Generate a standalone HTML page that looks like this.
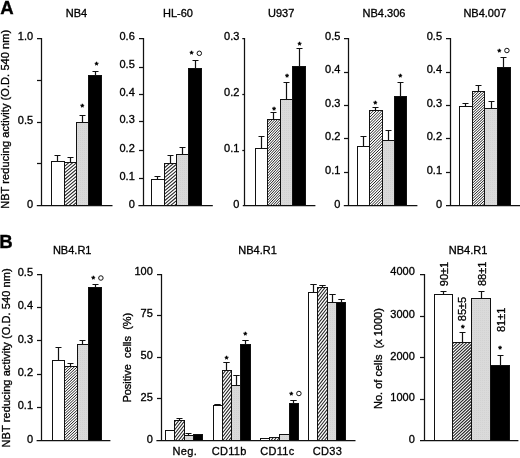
<!DOCTYPE html>
<html><head><meta charset="utf-8"><title>Figure</title>
<style>
html,body{margin:0;padding:0;background:#fff;}
body{width:520px;height:458px;overflow:hidden;}
svg{display:block;will-change:transform;}
text{font-family:"Liberation Sans",sans-serif;font-size:11px;fill:#000;stroke:#000;stroke-width:0.32px;}
.pl{font-size:18.6px;font-weight:bold;fill:#000;}
.cat{stroke-width:0.3px;letter-spacing:0.3px;fill:#000;stroke:#000;}
.st{font-size:9.4px;stroke-width:0.5px;}
.ax{stroke:#111;stroke-width:1.25;fill:none;}
.er{stroke:#111;stroke-width:1.2;fill:none;}
.ht{stroke:#242424;fill:none;}
.sp{stroke:#111;stroke-width:1.05;fill:none;}
.br{stroke:#111;stroke-width:1.0;}
</style></head><body>
<svg width="520" height="458" viewBox="0 0 520 458">
<defs>
<pattern id="dots" width="2" height="2" patternUnits="userSpaceOnUse">
<rect width="2" height="2" fill="#dadada"/><rect width="1" height="1" fill="#d2d2d2"/>
</pattern>
</defs>
<rect width="520" height="458" fill="#fff"/>
<text x="0.3" y="14.3" class="pl">A</text>
<text x="-0.7" y="247.6" class="pl">B</text>
<path d="M37.0 38.5H41.5V205.5" class="ax"/>
<path d="M36.8 205.5H112.5" class="ax"/>
<path d="M37.0 163.5H41.5" class="ax"/>
<path d="M37.0 122.5H41.5" class="ax"/>
<path d="M37.0 80.5H41.5" class="ax"/>
<text x="33.1" y="207.5" text-anchor="end">0</text>
<text x="33.1" y="123.7" text-anchor="end">0.5</text>
<text x="33.1" y="39.8" text-anchor="end">1.0</text>
<path d="M57.5 161.6V155.5M54.5 155.5H60.5" class="er"/>
<path d="M70.5 162.5V157.5M67.5 157.5H73.5" class="er"/>
<path d="M82.5 122.0V115.5M79.5 115.5H85.5" class="er"/>
<path d="M95.5 75.6V71.5M92.5 71.5H98.5" class="er"/>
<rect x="51.5" y="161.5" width="13.0" height="44.0" fill="#fff" class="br"/>
<clipPath id="c1"><rect x="64.5" y="162.5" width="12.0" height="43.0"/></clipPath>
<rect x="64.5" y="162.5" width="12.0" height="43.0" fill="#fff"/>
<path d="M64.5 215.82L76.5 205.75M64.5 212.52L76.5 202.45M64.5 209.22L76.5 199.15M64.5 205.92L76.5 195.85M64.5 202.62L76.5 192.55M64.5 199.32L76.5 189.25M64.5 196.02L76.5 185.95M64.5 192.72L76.5 182.65M64.5 189.42L76.5 179.35M64.5 186.12L76.5 176.05M64.5 182.82L76.5 172.75M64.5 179.52L76.5 169.45M64.5 176.22L76.5 166.15M64.5 172.92L76.5 162.85M64.5 169.62L76.5 159.55M64.5 166.32L76.5 156.25M64.5 163.02L76.5 152.95" class="ht" stroke-width="1.05" clip-path="url(#c1)"/>
<rect x="64.5" y="162.5" width="12.0" height="43.0" fill="none" class="br"/>
<rect x="76.5" y="122.5" width="12.0" height="83.0" fill="url(#dots)" class="br"/>
<rect x="88.5" y="75.5" width="13.0" height="130.0" fill="#000" class="br"/>
<text x="76.5" y="16.7" text-anchor="middle">NB4</text>
<text x="82.4" y="109.7" text-anchor="middle" class="st">*</text>
<text x="96.6" y="67.5" text-anchor="middle" class="st">*</text>
<path d="M139.0 38.5H143.5V205.5" class="ax"/>
<path d="M138.4 205.5H212.8" class="ax"/>
<path d="M139.0 178.5H143.5" class="ax"/>
<path d="M139.0 150.5H143.5" class="ax"/>
<path d="M139.0 121.5H143.5" class="ax"/>
<path d="M139.0 94.5H143.5" class="ax"/>
<path d="M139.0 67.5H143.5" class="ax"/>
<text x="134.8" y="207.5" text-anchor="end">0</text>
<text x="134.8" y="180.1" text-anchor="end">0.1</text>
<text x="134.8" y="152.0" text-anchor="end">0.2</text>
<text x="134.8" y="123.3" text-anchor="end">0.3</text>
<text x="134.8" y="95.6" text-anchor="end">0.4</text>
<text x="134.8" y="68.2" text-anchor="end">0.5</text>
<text x="134.8" y="39.8" text-anchor="end">0.6</text>
<path d="M157.5 179.0V176.5M154.5 176.5H160.5" class="er"/>
<path d="M170.5 163.7V155.5M167.5 155.5H173.5" class="er"/>
<path d="M182.5 154.6V147.5M179.5 147.5H185.5" class="er"/>
<path d="M195.5 68.3V60.5M192.5 60.5H198.5" class="er"/>
<rect x="151.5" y="179.5" width="13.0" height="26.0" fill="#fff" class="br"/>
<clipPath id="c2"><rect x="164.5" y="163.5" width="12.0" height="42.0"/></clipPath>
<rect x="164.5" y="163.5" width="12.0" height="42.0" fill="#fff"/>
<path d="M164.5 217.23L176.5 207.16M164.5 213.93L176.5 203.86M164.5 210.63L176.5 200.56M164.5 207.33L176.5 197.26M164.5 204.03L176.5 193.96M164.5 200.73L176.5 190.66M164.5 197.43L176.5 187.36M164.5 194.13L176.5 184.06M164.5 190.83L176.5 180.76M164.5 187.53L176.5 177.46M164.5 184.23L176.5 174.16M164.5 180.93L176.5 170.86M164.5 177.63L176.5 167.56M164.5 174.33L176.5 164.26M164.5 171.03L176.5 160.96M164.5 167.73L176.5 157.66M164.5 164.43L176.5 154.36" class="ht" stroke-width="1.05" clip-path="url(#c2)"/>
<rect x="164.5" y="163.5" width="12.0" height="42.0" fill="none" class="br"/>
<rect x="176.5" y="154.5" width="12.0" height="51.0" fill="url(#dots)" class="br"/>
<rect x="188.5" y="68.5" width="13.0" height="137.0" fill="#000" class="br"/>
<text x="178.0" y="16.7" text-anchor="middle">HL-60</text>
<text x="191.7" y="57.3" text-anchor="middle" class="st">*</text>
<circle cx="199.3" cy="53.3" r="2.25" fill="none" stroke="#111" stroke-width="1.0"/>
<path d="M242.3 38.5H244.5V205.5" class="ax"/>
<path d="M242.8 205.5H315.4" class="ax"/>
<path d="M242.3 150.5H244.5" class="ax"/>
<path d="M242.3 94.5H244.5" class="ax"/>
<text x="239.4" y="207.5" text-anchor="end">0</text>
<text x="239.4" y="152.0" text-anchor="end">0.1</text>
<text x="239.4" y="95.7" text-anchor="end">0.2</text>
<text x="239.4" y="39.8" text-anchor="end">0.3</text>
<path d="M261.5 148.2V136.5M258.5 136.5H264.5" class="er"/>
<path d="M273.5 119.6V112.5M270.5 112.5H276.5" class="er"/>
<path d="M286.5 99.1V82.5M283.5 82.5H289.5" class="er"/>
<path d="M299.5 66.0V48.5M296.5 48.5H302.5" class="er"/>
<rect x="255.5" y="148.5" width="12.0" height="57.0" fill="#fff" class="br"/>
<clipPath id="c3"><rect x="267.5" y="119.5" width="13.0" height="86.0"/></clipPath>
<rect x="267.5" y="119.5" width="13.0" height="86.0" fill="#fff"/>
<path d="M267.5 219.36L280.5 205.42M267.5 216.66L280.5 202.72M267.5 213.96L280.5 200.02M267.5 211.26L280.5 197.32M267.5 208.56L280.5 194.62M267.5 205.86L280.5 191.92M267.5 203.16L280.5 189.22M267.5 200.46L280.5 186.52M267.5 197.76L280.5 183.82M267.5 195.06L280.5 181.12M267.5 192.36L280.5 178.42M267.5 189.66L280.5 175.72M267.5 186.96L280.5 173.02M267.5 184.26L280.5 170.32M267.5 181.56L280.5 167.62M267.5 178.86L280.5 164.92M267.5 176.16L280.5 162.22M267.5 173.46L280.5 159.52M267.5 170.76L280.5 156.82M267.5 168.06L280.5 154.12M267.5 165.36L280.5 151.42M267.5 162.66L280.5 148.72M267.5 159.96L280.5 146.02M267.5 157.26L280.5 143.32M267.5 154.56L280.5 140.62M267.5 151.86L280.5 137.92M267.5 149.16L280.5 135.22M267.5 146.46L280.5 132.52M267.5 143.76L280.5 129.82M267.5 141.06L280.5 127.12M267.5 138.36L280.5 124.42M267.5 135.66L280.5 121.72M267.5 132.96L280.5 119.02M267.5 130.26L280.5 116.32M267.5 127.56L280.5 113.62M267.5 124.86L280.5 110.92M267.5 122.16L280.5 108.22" class="ht" stroke-width="1.00" clip-path="url(#c3)"/>
<rect x="267.5" y="119.5" width="13.0" height="86.0" fill="none" class="br"/>
<rect x="280.5" y="99.5" width="12.0" height="106.0" fill="url(#dots)" class="br"/>
<rect x="292.5" y="66.5" width="13.0" height="139.0" fill="#000" class="br"/>
<text x="281.2" y="16.7" text-anchor="middle">U937</text>
<text x="274.0" y="112.6" text-anchor="middle" class="st">*</text>
<text x="287.0" y="80.4" text-anchor="middle" class="st">*</text>
<text x="299.6" y="47.8" text-anchor="middle" class="st">*</text>
<path d="M344.0 38.5H348.5V205.5" class="ax"/>
<path d="M343.8 205.5H417.4" class="ax"/>
<path d="M344.0 172.5H348.5" class="ax"/>
<path d="M344.0 138.5H348.5" class="ax"/>
<path d="M344.0 105.5H348.5" class="ax"/>
<path d="M344.0 72.5H348.5" class="ax"/>
<text x="340.4" y="207.5" text-anchor="end">0</text>
<text x="340.4" y="174.0" text-anchor="end">0.1</text>
<text x="340.4" y="140.4" text-anchor="end">0.2</text>
<text x="340.4" y="106.9" text-anchor="end">0.3</text>
<text x="340.4" y="73.3" text-anchor="end">0.4</text>
<text x="340.4" y="39.8" text-anchor="end">0.5</text>
<path d="M363.5 146.4V136.5M360.5 136.5H366.5" class="er"/>
<path d="M375.5 110.6V107.5M372.5 107.5H378.5" class="er"/>
<path d="M388.5 140.7V130.5M385.5 130.5H391.5" class="er"/>
<path d="M400.5 96.1V82.5M397.5 82.5H403.5" class="er"/>
<rect x="357.5" y="146.5" width="12.0" height="59.0" fill="#fff" class="br"/>
<clipPath id="c4"><rect x="369.5" y="110.5" width="13.0" height="95.0"/></clipPath>
<rect x="369.5" y="110.5" width="13.0" height="95.0" fill="#fff"/>
<path d="M369.5 221.10L382.5 208.10M369.5 218.30L382.5 205.30M369.5 215.50L382.5 202.50M369.5 212.70L382.5 199.70M369.5 209.90L382.5 196.90M369.5 207.10L382.5 194.10M369.5 204.30L382.5 191.30M369.5 201.50L382.5 188.50M369.5 198.70L382.5 185.70M369.5 195.90L382.5 182.90M369.5 193.10L382.5 180.10M369.5 190.30L382.5 177.30M369.5 187.50L382.5 174.50M369.5 184.70L382.5 171.70M369.5 181.90L382.5 168.90M369.5 179.10L382.5 166.10M369.5 176.30L382.5 163.30M369.5 173.50L382.5 160.50M369.5 170.70L382.5 157.70M369.5 167.90L382.5 154.90M369.5 165.10L382.5 152.10M369.5 162.30L382.5 149.30M369.5 159.50L382.5 146.50M369.5 156.70L382.5 143.70M369.5 153.90L382.5 140.90M369.5 151.10L382.5 138.10M369.5 148.30L382.5 135.30M369.5 145.50L382.5 132.50M369.5 142.70L382.5 129.70M369.5 139.90L382.5 126.90M369.5 137.10L382.5 124.10M369.5 134.30L382.5 121.30M369.5 131.50L382.5 118.50M369.5 128.70L382.5 115.70M369.5 125.90L382.5 112.90M369.5 123.10L382.5 110.10M369.5 120.30L382.5 107.30M369.5 117.50L382.5 104.50M369.5 114.70L382.5 101.70M369.5 111.90L382.5 98.90" class="ht" stroke-width="1.00" clip-path="url(#c4)"/>
<rect x="369.5" y="110.5" width="13.0" height="95.0" fill="none" class="br"/>
<rect x="382.5" y="140.5" width="12.0" height="65.0" fill="url(#dots)" class="br"/>
<rect x="394.5" y="96.5" width="12.0" height="109.0" fill="#000" class="br"/>
<text x="384.0" y="16.7" text-anchor="middle">NB4.306</text>
<text x="375.4" y="106.7" text-anchor="middle" class="st">*</text>
<text x="400.4" y="80.4" text-anchor="middle" class="st">*</text>
<path d="M446.0 38.5H450.5V205.5" class="ax"/>
<path d="M446.0 205.5H520.0" class="ax"/>
<path d="M446.0 172.5H450.5" class="ax"/>
<path d="M446.0 138.5H450.5" class="ax"/>
<path d="M446.0 105.5H450.5" class="ax"/>
<path d="M446.0 72.5H450.5" class="ax"/>
<text x="442.0" y="207.5" text-anchor="end">0</text>
<text x="442.0" y="174.0" text-anchor="end">0.1</text>
<text x="442.0" y="140.4" text-anchor="end">0.2</text>
<text x="442.0" y="106.9" text-anchor="end">0.3</text>
<text x="442.0" y="73.3" text-anchor="end">0.4</text>
<text x="442.0" y="39.8" text-anchor="end">0.5</text>
<path d="M465.5 106.7V103.5M462.5 103.5H468.5" class="er"/>
<path d="M478.5 91.7V85.5M475.5 85.5H481.5" class="er"/>
<path d="M491.5 108.5V101.5M488.5 101.5H494.5" class="er"/>
<path d="M503.5 67.3V57.5M500.5 57.5H506.5" class="er"/>
<rect x="459.5" y="106.5" width="13.0" height="99.0" fill="#fff" class="br"/>
<clipPath id="c5"><rect x="472.5" y="91.5" width="12.0" height="114.0"/></clipPath>
<rect x="472.5" y="91.5" width="12.0" height="114.0" fill="#fff"/>
<path d="M472.5 217.01L484.5 205.82M472.5 214.41L484.5 203.22M472.5 211.81L484.5 200.62M472.5 209.21L484.5 198.02M472.5 206.61L484.5 195.42M472.5 204.01L484.5 192.82M472.5 201.41L484.5 190.22M472.5 198.81L484.5 187.62M472.5 196.21L484.5 185.02M472.5 193.61L484.5 182.42M472.5 191.01L484.5 179.82M472.5 188.41L484.5 177.22M472.5 185.81L484.5 174.62M472.5 183.21L484.5 172.02M472.5 180.61L484.5 169.42M472.5 178.01L484.5 166.82M472.5 175.41L484.5 164.22M472.5 172.81L484.5 161.62M472.5 170.21L484.5 159.02M472.5 167.61L484.5 156.42M472.5 165.01L484.5 153.82M472.5 162.41L484.5 151.22M472.5 159.81L484.5 148.62M472.5 157.21L484.5 146.02M472.5 154.61L484.5 143.42M472.5 152.01L484.5 140.82M472.5 149.41L484.5 138.22M472.5 146.81L484.5 135.62M472.5 144.21L484.5 133.02M472.5 141.61L484.5 130.42M472.5 139.01L484.5 127.82M472.5 136.41L484.5 125.22M472.5 133.81L484.5 122.62M472.5 131.21L484.5 120.02M472.5 128.61L484.5 117.42M472.5 126.01L484.5 114.82M472.5 123.41L484.5 112.22M472.5 120.81L484.5 109.62M472.5 118.21L484.5 107.02M472.5 115.61L484.5 104.42M472.5 113.01L484.5 101.82M472.5 110.41L484.5 99.22M472.5 107.81L484.5 96.62M472.5 105.21L484.5 94.02M472.5 102.61L484.5 91.42M472.5 100.01L484.5 88.82M472.5 97.41L484.5 86.22M472.5 94.81L484.5 83.62M472.5 92.21L484.5 81.02" class="ht" stroke-width="1.00" clip-path="url(#c5)"/>
<rect x="472.5" y="91.5" width="12.0" height="114.0" fill="none" class="br"/>
<rect x="484.5" y="108.5" width="13.0" height="97.0" fill="url(#dots)" class="br"/>
<rect x="497.5" y="67.5" width="13.0" height="138.0" fill="#000" class="br"/>
<text x="484.8" y="16.7" text-anchor="middle">NB4.007</text>
<text x="499.3" y="54.5" text-anchor="middle" class="st">*</text>
<circle cx="506.9" cy="50.5" r="2.25" fill="none" stroke="#111" stroke-width="1.0"/>
<text transform="translate(9.3,208.8) rotate(-90)" class="yl" textLength="179" lengthAdjust="spacing">NBT reducing activity (O.D. 540 nm)</text>
<path d="M37.0 274.5H41.5V440.5" class="ax"/>
<path d="M36.6 440.5H110.4" class="ax"/>
<path d="M37.0 407.5H41.5" class="ax"/>
<path d="M37.0 374.5H41.5" class="ax"/>
<path d="M37.0 340.5H41.5" class="ax"/>
<path d="M37.0 307.5H41.5" class="ax"/>
<text x="33.0" y="442.5" text-anchor="end">0</text>
<text x="33.0" y="409.3" text-anchor="end">0.1</text>
<text x="33.0" y="376.2" text-anchor="end">0.2</text>
<text x="33.0" y="342.5" text-anchor="end">0.3</text>
<text x="33.0" y="308.9" text-anchor="end">0.4</text>
<text x="33.0" y="275.6" text-anchor="end">0.5</text>
<path d="M58.5 360.6V347.5M55.5 347.5H61.5" class="er"/>
<path d="M70.5 366.6V363.5M67.5 363.5H73.5" class="er"/>
<path d="M82.5 344.2V340.5M79.5 340.5H85.5" class="er"/>
<path d="M95.5 287.7V284.5M92.5 284.5H98.5" class="er"/>
<rect x="52.5" y="360.5" width="12.0" height="80.0" fill="#fff" class="br"/>
<clipPath id="c6"><rect x="64.5" y="366.5" width="13.0" height="74.0"/></clipPath>
<rect x="64.5" y="366.5" width="13.0" height="74.0" fill="#fff"/>
<path d="M64.5 451.65L77.5 439.52M64.5 448.95L77.5 436.82M64.5 446.25L77.5 434.12M64.5 443.55L77.5 431.42M64.5 440.85L77.5 428.72M64.5 438.15L77.5 426.02M64.5 435.45L77.5 423.32M64.5 432.75L77.5 420.62M64.5 430.05L77.5 417.92M64.5 427.35L77.5 415.22M64.5 424.65L77.5 412.52M64.5 421.95L77.5 409.82M64.5 419.25L77.5 407.12M64.5 416.55L77.5 404.42M64.5 413.85L77.5 401.72M64.5 411.15L77.5 399.02M64.5 408.45L77.5 396.32M64.5 405.75L77.5 393.62M64.5 403.05L77.5 390.92M64.5 400.35L77.5 388.22M64.5 397.65L77.5 385.52M64.5 394.95L77.5 382.82M64.5 392.25L77.5 380.12M64.5 389.55L77.5 377.42M64.5 386.85L77.5 374.72M64.5 384.15L77.5 372.02M64.5 381.45L77.5 369.32M64.5 378.75L77.5 366.62M64.5 376.05L77.5 363.92M64.5 373.35L77.5 361.22M64.5 370.65L77.5 358.52M64.5 367.95L77.5 355.82" class="ht" stroke-width="1.00" clip-path="url(#c6)"/>
<rect x="64.5" y="366.5" width="13.0" height="74.0" fill="none" class="br"/>
<rect x="77.5" y="344.5" width="11.0" height="96.0" fill="url(#dots)" class="br"/>
<rect x="88.5" y="287.5" width="13.0" height="153.0" fill="#000" class="br"/>
<text x="72.2" y="253.7" text-anchor="middle">NB4.R1</text>
<text x="93.3" y="282.0" text-anchor="middle" class="st">*</text>
<circle cx="100.9" cy="278.0" r="2.25" fill="none" stroke="#111" stroke-width="1.0"/>
<text transform="translate(9.5,447.4) rotate(-90)" class="yl" textLength="179" lengthAdjust="spacing">NBT reducing activity (O.D. 540 nm)</text>
<path d="M157.0 274.5H161.5V440.5" class="ax"/>
<path d="M156.4 440.5H355.5" class="ax"/>
<path d="M157.0 398.5H161.5" class="ax"/>
<path d="M157.0 357.5H161.5" class="ax"/>
<path d="M157.0 315.5H161.5" class="ax"/>
<text x="152.8" y="442.5" text-anchor="end">0</text>
<text x="152.8" y="400.7" text-anchor="end">25</text>
<text x="152.8" y="358.9" text-anchor="end">50</text>
<text x="152.8" y="317.2" text-anchor="end">75</text>
<text x="152.8" y="275.4" text-anchor="end">100</text>
<path d="M179.5 420.3V418.5M176.5 418.5H182.5" class="er"/>
<path d="M188.5 435.8V433.5M185.5 433.5H191.5" class="er"/>
<rect x="165.5" y="430.5" width="9.0" height="10.0" fill="#fff" class="br"/>
<clipPath id="c7"><rect x="174.5" y="420.5" width="10.0" height="20.0"/></clipPath>
<rect x="174.5" y="420.5" width="10.0" height="20.0" fill="#fff"/>
<path d="M174.5 453.45L184.5 440.65M174.5 449.55L184.5 436.75M174.5 445.65L184.5 432.85M174.5 441.75L184.5 428.95M174.5 437.85L184.5 425.05M174.5 433.95L184.5 421.15M174.5 430.05L184.5 417.25M174.5 426.15L184.5 413.35M174.5 422.25L184.5 409.45" class="ht" stroke-width="1.05" clip-path="url(#c7)"/>
<rect x="174.5" y="420.5" width="10.0" height="20.0" fill="none" class="br"/>
<rect x="184.5" y="435.5" width="9.0" height="5.0" fill="url(#dots)" class="br"/>
<rect x="193.5" y="434.5" width="9.0" height="6.0" fill="#000" class="br"/>
<path d="M217.5 405.7V404.5M214.3 404.5H220.7" class="er"/>
<path d="M226.5 370.6V362.5M223.3 362.5H229.7" class="er"/>
<path d="M236.5 385.2V375.5M233.3 375.5H239.7" class="er"/>
<path d="M245.5 344.4V340.5M242.3 340.5H248.7" class="er"/>
<rect x="213.5" y="405.5" width="9.0" height="35.0" fill="#fff" class="br"/>
<clipPath id="c8"><rect x="222.5" y="370.5" width="9.0" height="70.0"/></clipPath>
<rect x="222.5" y="370.5" width="9.0" height="70.0" fill="#fff"/>
<path d="M222.5 448.59L231.5 437.07M222.5 444.69L231.5 433.17M222.5 440.79L231.5 429.27M222.5 436.89L231.5 425.37M222.5 432.99L231.5 421.47M222.5 429.09L231.5 417.57M222.5 425.19L231.5 413.67M222.5 421.29L231.5 409.77M222.5 417.39L231.5 405.87M222.5 413.49L231.5 401.97M222.5 409.59L231.5 398.07M222.5 405.69L231.5 394.17M222.5 401.79L231.5 390.27M222.5 397.89L231.5 386.37M222.5 393.99L231.5 382.47M222.5 390.09L231.5 378.57M222.5 386.19L231.5 374.67M222.5 382.29L231.5 370.77M222.5 378.39L231.5 366.87M222.5 374.49L231.5 362.97M222.5 370.59L231.5 359.07" class="ht" stroke-width="1.05" clip-path="url(#c8)"/>
<rect x="222.5" y="370.5" width="9.0" height="70.0" fill="none" class="br"/>
<rect x="231.5" y="385.5" width="9.0" height="55.0" fill="url(#dots)" class="br"/>
<rect x="240.5" y="344.5" width="10.0" height="96.0" fill="#000" class="br"/>
<path d="M293.5 403.2V400.5M290.3 400.5H296.7" class="er"/>
<rect x="260.5" y="438.5" width="9.0" height="2.0" fill="#fff" class="br"/>
<clipPath id="c9"><rect x="269.5" y="437.5" width="10.0" height="3.0"/></clipPath>
<rect x="269.5" y="437.5" width="10.0" height="3.0" fill="#fff"/>
<path d="M269.5 454.14L279.5 441.34M269.5 450.24L279.5 437.44M269.5 446.34L279.5 433.54M269.5 442.44L279.5 429.64M269.5 438.54L279.5 425.74" class="ht" stroke-width="1.05" clip-path="url(#c9)"/>
<rect x="269.5" y="437.5" width="10.0" height="3.0" fill="none" class="br"/>
<rect x="279.5" y="434.5" width="10.0" height="6.0" fill="url(#dots)" class="br"/>
<rect x="289.5" y="403.5" width="9.0" height="37.0" fill="#000" class="br"/>
<path d="M313.5 292.3V284.5M310.3 284.5H316.7" class="er"/>
<path d="M322.5 287.7V285.5M319.3 285.5H325.7" class="er"/>
<path d="M332.5 302.0V294.5M329.3 294.5H335.7" class="er"/>
<path d="M341.5 302.3V299.5M338.3 299.5H344.7" class="er"/>
<rect x="308.5" y="292.5" width="9.0" height="148.0" fill="#fff" class="br"/>
<clipPath id="c10"><rect x="317.5" y="287.5" width="10.0" height="153.0"/></clipPath>
<rect x="317.5" y="287.5" width="10.0" height="153.0" fill="#fff"/>
<path d="M317.5 453.18L327.5 440.38M317.5 449.28L327.5 436.48M317.5 445.38L327.5 432.58M317.5 441.48L327.5 428.68M317.5 437.58L327.5 424.78M317.5 433.68L327.5 420.88M317.5 429.78L327.5 416.98M317.5 425.88L327.5 413.08M317.5 421.98L327.5 409.18M317.5 418.08L327.5 405.28M317.5 414.18L327.5 401.38M317.5 410.28L327.5 397.48M317.5 406.38L327.5 393.58M317.5 402.48L327.5 389.68M317.5 398.58L327.5 385.78M317.5 394.68L327.5 381.88M317.5 390.78L327.5 377.98M317.5 386.88L327.5 374.08M317.5 382.98L327.5 370.18M317.5 379.08L327.5 366.28M317.5 375.18L327.5 362.38M317.5 371.28L327.5 358.48M317.5 367.38L327.5 354.58M317.5 363.48L327.5 350.68M317.5 359.58L327.5 346.78M317.5 355.68L327.5 342.88M317.5 351.78L327.5 338.98M317.5 347.88L327.5 335.08M317.5 343.98L327.5 331.18M317.5 340.08L327.5 327.28M317.5 336.18L327.5 323.38M317.5 332.28L327.5 319.48M317.5 328.38L327.5 315.58M317.5 324.48L327.5 311.68M317.5 320.58L327.5 307.78M317.5 316.68L327.5 303.88M317.5 312.78L327.5 299.98M317.5 308.88L327.5 296.08M317.5 304.98L327.5 292.18M317.5 301.08L327.5 288.28M317.5 297.18L327.5 284.38M317.5 293.28L327.5 280.48M317.5 289.38L327.5 276.58" class="ht" stroke-width="1.05" clip-path="url(#c10)"/>
<rect x="317.5" y="287.5" width="10.0" height="153.0" fill="none" class="br"/>
<rect x="327.5" y="302.5" width="9.0" height="138.0" fill="url(#dots)" class="br"/>
<rect x="336.5" y="302.5" width="9.0" height="138.0" fill="#000" class="br"/>
<text x="257.6" y="253.7" text-anchor="middle">NB4.R1</text>
<text x="226.7" y="362.1" text-anchor="middle" class="st">*</text>
<text x="245.3" y="337.5" text-anchor="middle" class="st">*</text>
<text x="291.3" y="397.5" text-anchor="middle" class="st">*</text>
<circle cx="298.9" cy="393.5" r="2.25" fill="none" stroke="#111" stroke-width="1.0"/>
<text x="184.8" y="455.2" text-anchor="middle" class="cat">Neg.</text>
<text x="229.2" y="455.2" text-anchor="middle" class="cat">CD11b</text>
<text x="277.4" y="455.2" text-anchor="middle" class="cat">CD11c</text>
<text x="327.4" y="455.2" text-anchor="middle" class="cat">CD33</text>
<text transform="translate(131.0,402.6) rotate(-90)" class="yl">Positive&#160;&#160;cells&#160;&#160;(%)</text>
<path d="M420.0 274.5H424.5V440.5" class="ax"/>
<path d="M420.0 440.5H518.4" class="ax"/>
<path d="M420.0 399.5H424.5" class="ax"/>
<path d="M420.0 357.5H424.5" class="ax"/>
<path d="M420.0 316.5H424.5" class="ax"/>
<text x="414.8" y="442.5" text-anchor="end">0</text>
<text x="414.8" y="400.9" text-anchor="end">1000</text>
<text x="414.8" y="359.6" text-anchor="end">2000</text>
<text x="414.8" y="317.6" text-anchor="end">3000</text>
<text x="414.8" y="275.4" text-anchor="end">4000</text>
<path d="M443.5 294.2V291.5M440.5 291.5H446.5" class="er"/>
<path d="M462.5 342.3V332.5M459.5 332.5H465.5" class="er"/>
<path d="M481.5 298.8V291.5M478.5 291.5H484.5" class="er"/>
<path d="M500.5 365.6V355.5M497.5 355.5H503.5" class="er"/>
<rect x="434.5" y="294.5" width="18.0" height="146.0" fill="#fff" class="br"/>
<clipPath id="c11"><rect x="452.5" y="342.5" width="19.0" height="98.0"/></clipPath>
<rect x="452.5" y="342.5" width="19.0" height="98.0" fill="#fff"/>
<path d="M452.5 457.96L471.5 440.25M452.5 454.96L471.5 437.25M452.5 451.96L471.5 434.25M452.5 448.96L471.5 431.25M452.5 445.96L471.5 428.25M452.5 442.96L471.5 425.25M452.5 439.96L471.5 422.25M452.5 436.96L471.5 419.25M452.5 433.96L471.5 416.25M452.5 430.96L471.5 413.25M452.5 427.96L471.5 410.25M452.5 424.96L471.5 407.25M452.5 421.96L471.5 404.25M452.5 418.96L471.5 401.25M452.5 415.96L471.5 398.25M452.5 412.96L471.5 395.25M452.5 409.96L471.5 392.25M452.5 406.96L471.5 389.25M452.5 403.96L471.5 386.25M452.5 400.96L471.5 383.25M452.5 397.96L471.5 380.25M452.5 394.96L471.5 377.25M452.5 391.96L471.5 374.25M452.5 388.96L471.5 371.25M452.5 385.96L471.5 368.25M452.5 382.96L471.5 365.25M452.5 379.96L471.5 362.25M452.5 376.96L471.5 359.25M452.5 373.96L471.5 356.25M452.5 370.96L471.5 353.25M452.5 367.96L471.5 350.25M452.5 364.96L471.5 347.25M452.5 361.96L471.5 344.25M452.5 358.96L471.5 341.25M452.5 355.96L471.5 338.25M452.5 352.96L471.5 335.25M452.5 349.96L471.5 332.25M452.5 346.96L471.5 329.25M452.5 343.96L471.5 326.25" class="ht" stroke-width="1.05" clip-path="url(#c11)"/>
<rect x="452.5" y="342.5" width="19.0" height="98.0" fill="none" class="br"/>
<rect x="471.5" y="298.5" width="19.0" height="142.0" fill="url(#dots)" class="br"/>
<rect x="490.5" y="365.5" width="19.0" height="75.0" fill="#000" class="br"/>
<text x="468.0" y="253.7" text-anchor="middle">NB4.R1</text>
<text transform="translate(381.6,409.0) rotate(-90)" class="yl">No. of cells&#160;&#160;(x 1000)</text>
<text transform="translate(447.8,286.2) rotate(-90)" class="yl">90±1</text>
<text transform="translate(485.8,286.0) rotate(-90)" class="yl">88±1</text>
<text transform="translate(466.4,321.2) rotate(-90)" class="yl">85±5</text>
<text transform="translate(505.2,332.0) rotate(-90)" class="yl">81±1</text>
<text x="462.8" y="330.7" text-anchor="middle" class="st">*</text>
<text x="500.2" y="351.6" text-anchor="middle" class="st">*</text>
</svg>
</body></html>
